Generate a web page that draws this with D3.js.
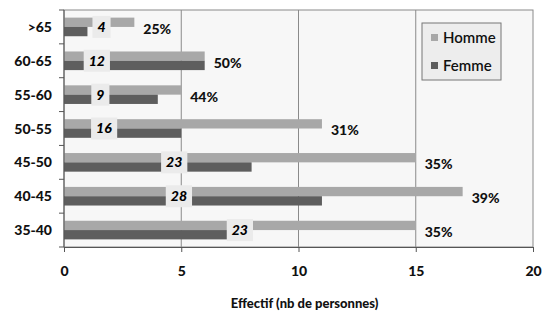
<!DOCTYPE html>
<html>
<head>
<meta charset="utf-8">
<script src="https://cdn.jsdelivr.net/npm/d3@7"></script>
<style>
  body { margin: 0; background: #fff; }
  text { font-family: Lato, "Open Sans", sans-serif; }
</style>
</head>
<body>
<svg id="chart" width="544" height="311"></svg>
<script>
"use strict";

// tranches d'age, de haut en bas
var categories = [">65", "60-65", "55-60", "50-55", "45-50", "40-45", "35-40"];
var homme = [3, 6, 5, 11, 15, 17, 15];
var femme = [1, 6, 4, 5, 8, 11, 8];
// where the total label sits along the x axis
var totalLabelAt = [1.6, 1.4, 1.55, 1.7, 4.7, 4.9, 7.5];
var xTicks = [0, 5, 10, 15, 20];
var seriesNames = ["Homme", "Femme"];

var config = {
  margin: { l: 64, r: 11, t: 10, b: 64 },
  colors: { Homme: "#a8a8a8", Femme: "#5e5e5e" }
};

var svg = d3.select("#chart");
var width = 544, height = 311;
var innerWidth = width - config.margin.l - config.margin.r;
var innerHeight = height - config.margin.t - config.margin.b;

var g = svg.append("g")
  .attr("transform", "translate(" + config.margin.l + "," + config.margin.t + ")");

var x = d3.scaleLinear().domain([0, 20]).range([0, innerWidth]);
var y = d3.scaleBand().domain(categories).range([0, innerHeight]).paddingInner(0.45).paddingOuter(0.225);
var ySub = d3.scaleBand().domain(seriesNames).range([0, y.bandwidth()]);

// plot background + frame
g.append("rect")
  .attr("width", innerWidth).attr("height", innerHeight)
  .attr("fill", "#f7f7f7")
  .attr("stroke", "#8a8a8a").attr("stroke-width", 1);

// gridlines
g.selectAll(".grid").data(xTicks.slice(1, -1)).enter().append("line")
  .attr("x1", function(d) { return x(d); }).attr("x2", function(d) { return x(d); })
  .attr("y1", 0).attr("y2", innerHeight)
  .attr("stroke", "#8a8a8a").attr("stroke-width", 1);

var rows = categories.map(function(c, i) {
  return { cat: c, Homme: homme[i], Femme: femme[i], at: totalLabelAt[i] };
});

var row = g.selectAll(".row").data(rows).enter().append("g")
  .attr("transform", function(d) { return "translate(0," + y(d.cat) + ")"; });

seriesNames.forEach(function(s) {
  row.append("rect")
    .attr("x", 0)
    .attr("y", ySub(s))
    .attr("width", function(d) { return x(d[s]); })
    .attr("height", ySub.bandwidth())
    .attr("fill", config.colors[s]);
});

// total labels with grey box
row.each(function(d) {
  var total = d.Homme + d.Femme;
  var sel = d3.select(this);
  var t = sel.append("text")
    .attr("x", x(d.at))
    .attr("y", y.bandwidth() / 2 + 5)
    .attr("text-anchor", "middle")
    .attr("style", "font-size: 14px; font-weight: 900; font-style: italic;")
    .attr("fill", "#000")
    .text(total);
  var bb = t.node().getBBox();
  sel.insert("rect", "text")
    .attr("x", bb.x - 5)
    .attr("y", y.bandwidth() / 2 - 11)
    .attr("width", bb.width + 10)
    .attr("height", 22)
    .attr("fill", "#ebebeb");
});

// percentage of women
row.append("text")
  .attr("x", function(d) { return x(d.Homme) + 9; })
  .attr("y", y.bandwidth() / 2 + 7)
  .attr("style", "font-size: 14px; font-weight: 900;")
  .attr("fill", "#111")
  .text(function(d) { return Math.round(d.Femme / (d.Homme + d.Femme) * 100) + "%"; });

// y axis
var yAxisG = g.append("g");
yAxisG.append("line")
  .attr("x1", 0).attr("x2", 0).attr("y1", 0).attr("y2", innerHeight)
  .attr("stroke", "#555");
var step = innerHeight / categories.length;
yAxisG.selectAll(".tk").data(d3.range(categories.length + 1)).enter().append("line")
  .attr("x1", -5).attr("x2", 0)
  .attr("y1", function(i) { return i * step; }).attr("y2", function(i) { return i * step; })
  .attr("stroke", "#555");
yAxisG.selectAll(".lbl").data(categories).enter().append("text")
  .attr("x", -12)
  .attr("y", function(d) { return y(d) + y.bandwidth() / 2 + 5; })
  .attr("text-anchor", "end")
  .attr("style", "font-size: 14px; font-weight: 900;")
  .attr("fill", "#111")
  .text(function(d) { return d; });

// x axis
var xAxis = d3.axisBottom(x).tickValues(xTicks).tickSize(5).tickPadding(14);
var xAxisG = g.append("g")
  .attr("transform", "translate(0," + innerHeight + ")")
  .call(xAxis);
xAxisG.select(".domain").attr("stroke", "#555");
xAxisG.selectAll(".tick line").attr("stroke", "#555");
xAxisG.selectAll("text")
  .attr("style", "font-size: 14px; font-weight: 900; font-family: Lato, sans-serif;")
  .attr("fill", "#111");

g.append("text")
  .attr("x", innerWidth / 2 + 6)
  .attr("y", innerHeight + 61)
  .attr("text-anchor", "middle")
  .attr("style", "font-size: 13px; font-weight: 900;")
  .attr("fill", "#111")
  .text("Effectif (nb de personnes)");

// legend
var legend = svg.append("g").attr("transform", "translate(422,23)");
legend.append("rect")
  .attr("width", 79).attr("height", 57)
  .attr("fill", "#ededed").attr("stroke", "#777");
seriesNames.forEach(function(s, i) {
  legend.append("rect")
    .attr("x", 9).attr("y", 11 + i * 28)
    .attr("width", 7).attr("height", 7)
    .attr("fill", config.colors[s]);
  legend.append("text")
    .attr("x", 21).attr("y", 20 + i * 28)
    .attr("style", "font-size: 15px; font-weight: 600;")
    .attr("fill", "#111")
    .text(s);
});
</script>
</body>
</html>
